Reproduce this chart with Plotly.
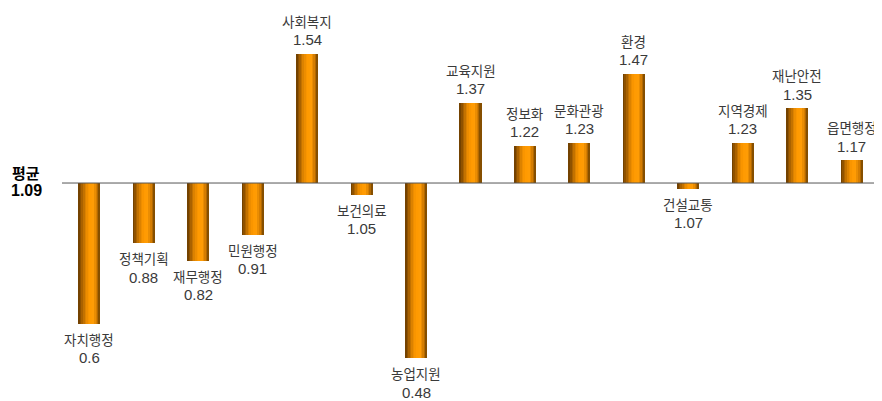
import plotly.graph_objects as go

categories = ["자치행정", "정책기획", "재무행정", "민원행정", "사회복지", "보건의료", "농업지원",
              "교육지원", "정보화", "문화관광", "환경", "건설교통", "지역경제", "재난안전", "읍면행정"]
values = [0.6, 0.88, 0.82, 0.91, 1.54, 1.05, 0.48, 1.37, 1.22, 1.23, 1.47, 1.07, 1.23, 1.35, 1.17]
average = 1.09
value_labels = ["0.6", "0.88", "0.82", "0.91", "1.54", "1.05", "0.48", "1.37", "1.22", "1.23",
                "1.47", "1.07", "1.23", "1.35", "1.17"]

# cylinder-like horizontal gradient (style)
stops = [(0.0, (0x66, 0x3a, 0x00)), (0.15, (0xa0, 0x5c, 0x00)), (0.35, (0xe6, 0x88, 0x00)),
         (0.5, (0xff, 0x99, 0x00)), (0.68, (0xff, 0x9c, 0x05)), (0.85, (0xcc, 0x77, 0x00)),
         (1.0, (0x70, 0x42, 0x00))]

def color_at(t):
    for (t0, c0), (t1, c1) in zip(stops[:-1], stops[1:]):
        if t0 <= t <= t1:
            f = (t - t0) / (t1 - t0) if t1 > t0 else 0
            c = [round(a + (b - a) * f) for a, b in zip(c0, c1)]
            return "rgb(%d,%d,%d)" % tuple(c)
    return "rgb(%d,%d,%d)" % stops[-1][1]

xs = list(range(len(categories)))
deltas = [v - average for v in values]
W = 0.405
N = 14
sw = W / N

fig = go.Figure()
for i in range(N):
    t = (i + 0.5) / N
    fig.add_trace(go.Bar(
        x=xs, y=deltas, base=average,
        width=sw * (1.6 if i < N - 1 else 1.0),
        offset=-W / 2 + i * sw,
        marker=dict(color=color_at(t), line=dict(width=0)),
        hoverinfo="skip", showlegend=False,
    ))

fig.add_shape(type="line", xref="paper", yref="y", x0=0, x1=1, y0=average, y1=average,
              line=dict(color="#555555", width=1))

name_font = dict(family="Noto Sans CJK KR, sans-serif", size=13.5, color="#3a3a3a")
val_font = dict(family="Liberation Sans, Arial, sans-serif", size=15, color="#3a3a3a")
for x, v, name, lab in zip(xs, values, categories, value_labels):
    up = v >= average
    fig.add_annotation(x=x, y=v, xref="x", yref="y", text=name, showarrow=False,
                       font=name_font, yanchor="middle", yshift=33 if up else -15)
    fig.add_annotation(x=x, y=v, xref="x", yref="y", text=lab, showarrow=False,
                       font=val_font, yanchor="middle", yshift=14 if up else -34)

fig.add_annotation(x=-36 / 817, y=average, xref="paper", yref="y", text="<b>평균</b>",
                   showarrow=False, yshift=11, xanchor="center", yanchor="middle",
                   font=dict(family="Noto Sans CJK KR, sans-serif", size=15, color="#000000"))
fig.add_annotation(x=-36 / 817, y=average, xref="paper", yref="y", text="<b>%.2f</b>" % average,
                   showarrow=False, yshift=-7, xanchor="center", yanchor="middle",
                   font=dict(family="Liberation Sans, Arial, sans-serif", size=16, color="#000000"))

fig.update_layout(
    width=874, height=393,
    margin=dict(l=54, r=3, t=0, b=0),
    paper_bgcolor="white", plot_bgcolor="white",
    barmode="overlay", bargap=0,
    xaxis=dict(range=[-0.5, len(categories) - 0.5], visible=False, fixedrange=True),
    yaxis=dict(range=[0.3305, 1.6998], visible=False, fixedrange=True),
)

fig.write_html("out.html")
